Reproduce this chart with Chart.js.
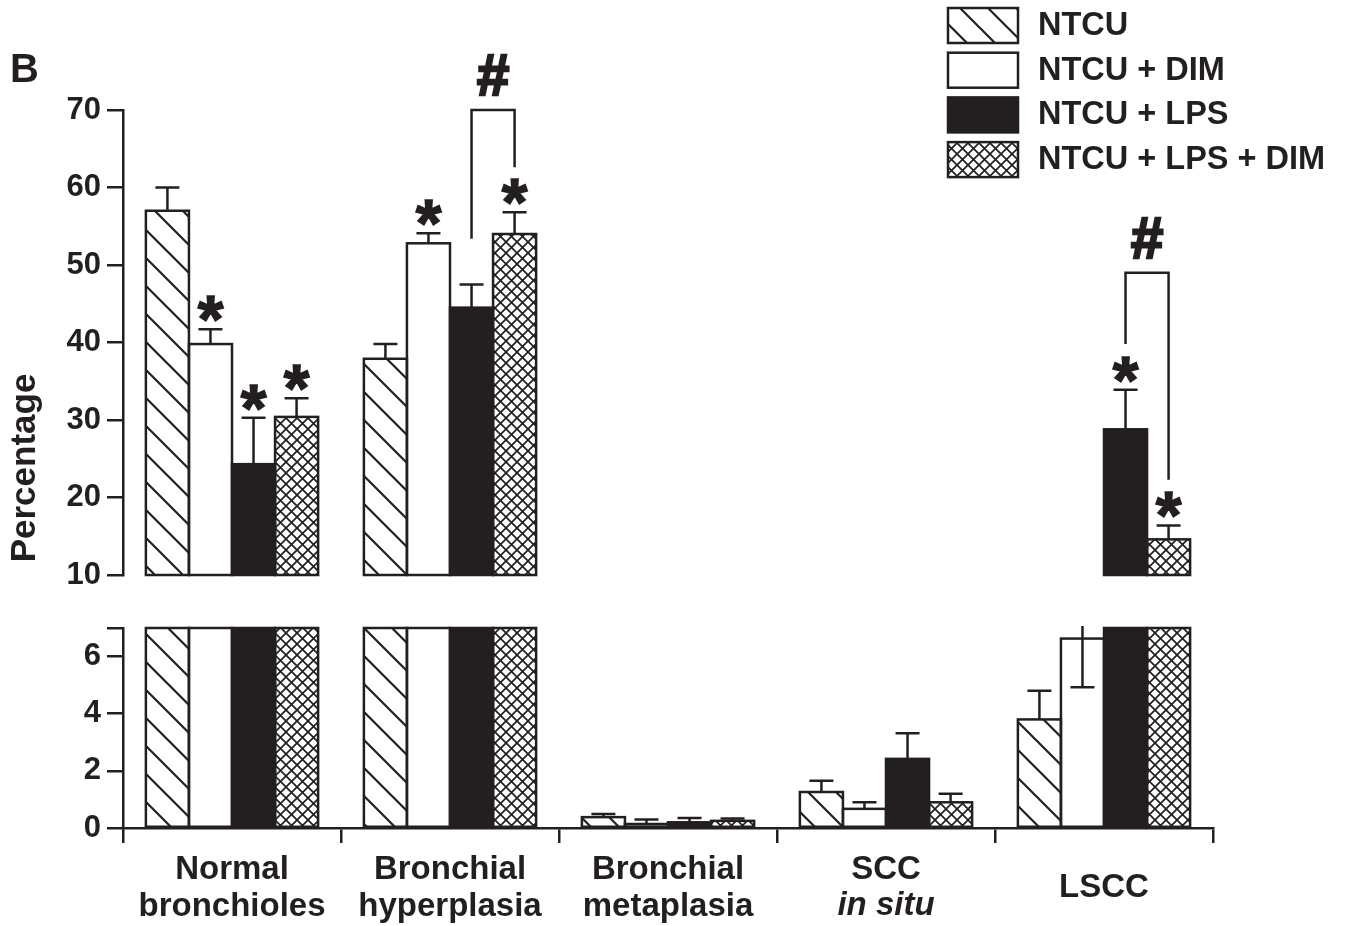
<!DOCTYPE html>
<html>
<head>
<meta charset="utf-8">
<script src="https://cdn.jsdelivr.net/npm/chart.js@4.4.0/dist/chart.umd.min.js"></script>
<style>
    html, body { margin: 0; padding: 0; background: #fff; }
    #wrap { position: relative; width: 1350px; height: 926px; }
    #topChart { position: absolute; left: 0; top: 0; }
    #bottomChart { position: absolute; left: 0; top: 600px; }
</style>
</head>
<body>
<div id="wrap">
    <canvas id="topChart" width="1350" height="600"></canvas>
    <canvas id="bottomChart" width="1350" height="326"></canvas>
</div>
<script>
// Categories (second line of SCC is drawn in italics separately)
const CATEGORIES = [['Normal', 'bronchioles'], ['Bronchial', 'hyperplasia'], ['Bronchial', 'metaplasia'], ['SCC', ' '], 'LSCC'];
const ITALIC_SUBLABELS = ['', '', '', 'in situ', ''];
const SERIES_LABELS = ['NTCU', 'NTCU + DIM', 'NTCU + LPS', 'NTCU + LPS + DIM'];

// Percentages
const NTCU = [57.0, 37.9, 0.38, 1.26, 3.8];
const NTCU_DIM = [39.8, 52.8, 0.14, 0.67, 6.63];
const NTCU_LPS = [24.3, 44.5, 0.2, 2.42, 28.8];
const NTCU_LPS_DIM = [30.4, 54.0, 0.25, 0.9, 14.6];

// Error bar sizes (SEM)
const NTCU_ERR = [3.0, 1.9, 0.11, 0.39, 1.0];
const NTCU_DIM_ERR = [1.9, 1.3, 0.16, 0.23, 1.7];
const NTCU_LPS_ERR = [6.0, 3.0, 0.15, 0.9, 5.1];
const NTCU_LPS_DIM_ERR = [2.4, 2.8, 0.08, 0.3, 1.8];

// Broken axis ranges and ticks
const TOP_TICKS = [10, 20, 30, 40, 50, 60, 70];
const BOTTOM_TICKS = [0, 2, 4, 6, 7];

// Significance marks: [category, series]
const STARS = [[0, 1], [0, 2], [0, 3], [1, 1], [1, 3], [4, 2], [4, 3]];
// Brackets between series within a category (values in data units)
const BRACKETS = [
    { cat: 1, from: 2, to: 3, top: 70, fromEnd: 53.4, toEnd: 62.6 },
    { cat: 4, from: 2, to: 3, top: 49, fromEnd: 39.8, toEnd: 22.3 }
];

const INK = '#231f20';
const FONT = "'Liberation Sans', Arial, sans-serif";

function makePattern(size, lineWidth, draw) {
    const c = document.createElement('canvas');
    c.width = size;
    c.height = size;
    const g = c.getContext('2d');
    g.fillStyle = '#fff';
    g.fillRect(0, 0, size, size);
    g.strokeStyle = INK;
    g.lineWidth = lineWidth;
    g.beginPath();
    draw(g, size);
    g.stroke();
    return g.createPattern(c, 'repeat');
}

const diagPattern = makePattern(28, 2.2, (g, s) => {
    g.moveTo(-3, -3); g.lineTo(s + 3, s + 3);
    g.moveTo(s - 3, -3); g.lineTo(s + 3, 3);
    g.moveTo(-3, s - 3); g.lineTo(3, s + 3);
});
const crossPattern = makePattern(11, 1.7, (g, s) => {
    g.moveTo(-2, -2); g.lineTo(s + 2, s + 2);
    g.moveTo(-2, s + 2); g.lineTo(s + 2, -2);
});

const FILLS = [diagPattern, '#ffffff', INK, crossPattern];
const SERIES = [NTCU, NTCU_DIM, NTCU_LPS, NTCU_LPS_DIM];
const ERRORS = [NTCU_ERR, NTCU_DIM_ERR, NTCU_LPS_ERR, NTCU_LPS_DIM_ERR];

function buildDatasets() {
    return SERIES.map((values, i) => ({
        label: SERIES_LABELS[i],
        data: values,
        backgroundColor: FILLS[i],
        borderWidth: 0,
        clip: 0,
        categoryPercentage: 0.79,
        barPercentage: 1.0
    }));
}

// Bar outlines and error bars, clipped to the panel
const barDetailsPlugin = {
    id: 'barDetails',
    afterDatasetsDraw(chart) {
        const { ctx, chartArea: a } = chart;
        const y = chart.scales.y;
        ctx.save();
        ctx.beginPath();
        ctx.rect(a.left - 2, a.top - 2, a.right - a.left + 4, a.bottom - a.top + 4);
        ctx.clip();
        ctx.strokeStyle = INK;
        ctx.lineWidth = 2.5;
        chart.data.datasets.forEach((ds, d) => {
            chart.getDatasetMeta(d).data.forEach((bar, i) => {
                const v = ds.data[i];
                if (v <= y.min) return;
                const top = Math.max(bar.y, a.top);
                const bottom = Math.min(bar.base, a.bottom);
                ctx.strokeRect(bar.x - bar.width / 2, top, bar.width, bottom - top);

                const e = ERRORS[d][i];
                const yv = y.getPixelForValue(v);
                const yHi = y.getPixelForValue(v + e);
                ctx.beginPath();
                ctx.moveTo(bar.x, yv); ctx.lineTo(bar.x, yHi);
                ctx.moveTo(bar.x - 12, yHi); ctx.lineTo(bar.x + 12, yHi);
                if (v + e > y.max) {
                    const yLo = y.getPixelForValue(v - e);
                    ctx.moveTo(bar.x, yv); ctx.lineTo(bar.x, yLo);
                    ctx.moveTo(bar.x - 12, yLo); ctx.lineTo(bar.x + 12, yLo);
                }
                ctx.stroke();
            });
        });
        ctx.restore();
    }
};

// Stars, brackets, legend, panel letter, axis title
const annotationsPlugin = {
    id: 'annotations',
    afterDraw(chart) {
        const { ctx } = chart;
        const y = chart.scales.y;
        const barAt = (cat, s) => chart.getDatasetMeta(s).data[cat];
        ctx.save();
        ctx.fillStyle = INK;
        ctx.strokeStyle = INK;

        ctx.font = 'bold 66px ' + FONT;
        ctx.textAlign = 'center';
        ctx.textBaseline = 'alphabetic';
        ctx.lineWidth = 1.5;
        STARS.forEach(([cat, s]) => {
            const bar = barAt(cat, s);
            const yHi = y.getPixelForValue(SERIES[s][cat] + ERRORS[s][cat]);
            ctx.fillText('*', bar.x, yHi - 24 + 37);
            ctx.strokeText('*', bar.x, yHi - 24 + 37);
        });

        BRACKETS.forEach(b => {
            const x1 = barAt(b.cat, b.from).x;
            const x2 = barAt(b.cat, b.to).x;
            const yTop = y.getPixelForValue(b.top);
            ctx.lineWidth = 2.5;
            ctx.beginPath();
            ctx.moveTo(x1, y.getPixelForValue(b.fromEnd));
            ctx.lineTo(x1, yTop);
            ctx.lineTo(x2, yTop);
            ctx.lineTo(x2, y.getPixelForValue(b.toEnd));
            ctx.stroke();
            ctx.font = 'bold 58px ' + FONT;
            ctx.lineWidth = 2.5;
            ctx.fillText('#', (x1 + x2) / 2, yTop - 35 + 20);
            ctx.strokeText('#', (x1 + x2) / 2, yTop - 35 + 20);
        });

        // legend
        ctx.lineWidth = 2.5;
        ctx.textAlign = 'left';
        ctx.textBaseline = 'middle';
        ctx.font = 'bold 32.5px ' + FONT;
        SERIES_LABELS.forEach((label, i) => {
            const y0 = 8 + i * 44.7;
            ctx.fillStyle = FILLS[i];
            ctx.fillRect(948, y0, 70, 35);
            ctx.strokeRect(948, y0, 70, 35);
            ctx.fillStyle = INK;
            ctx.fillText(label, 1038, y0 + 18);
        });

        ctx.font = 'bold 40px ' + FONT;
        ctx.textBaseline = 'alphabetic';
        ctx.fillText('B', 10, 82);

        ctx.translate(25, 468);
        ctx.rotate(-Math.PI / 2);
        ctx.textAlign = 'center';
        ctx.textBaseline = 'middle';
        ctx.font = 'bold 35px ' + FONT;
        ctx.fillText('Percentage', 0, 0);
        ctx.restore();
    }
};

// Italic second line under SCC
const italicLabelPlugin = {
    id: 'italicLabels',
    afterDraw(chart) {
        const { ctx } = chart;
        const x = chart.scales.x;
        ctx.save();
        ctx.fillStyle = INK;
        ctx.font = 'italic bold 33px ' + FONT;
        ctx.textAlign = 'center';
        ctx.textBaseline = 'middle';
        ITALIC_SUBLABELS.forEach((text, i) => {
            if (!text) return;
            ctx.fillText(text, x.getPixelForTick(i), x.top + 78);
        });
        ctx.restore();
    }
};

function yAxis(min, max, ticks) {
    return {
        min: min,
        max: max,
        afterBuildTicks: scale => { scale.ticks = ticks.map(v => ({ value: v })); },
        afterFit: scale => { scale.width = 123; },
        grid: { drawOnChartArea: false, tickLength: 16, lineWidth: 2.5, color: INK },
        border: { display: true, width: 2.5, color: INK },
        ticks: {
            color: INK,
            padding: 6,
            font: { family: FONT, size: 31, weight: 'bold' },
            callback: v => (v === 7 ? '' : v)
        }
    };
}

const commonOptions = {
    responsive: false,
    animation: false,
    events: [],
    plugins: { legend: { display: false }, tooltip: { enabled: false } }
};

new Chart(document.getElementById('topChart'), {
    type: 'bar',
    data: { labels: CATEGORIES, datasets: buildDatasets() },
    options: {
        ...commonOptions,
        layout: { padding: { top: 110, right: 137, bottom: 25, left: 0 } },
        scales: {
            x: { display: false },
            y: yAxis(10, 70, TOP_TICKS)
        }
    },
    plugins: [barDetailsPlugin, annotationsPlugin]
});

new Chart(document.getElementById('bottomChart'), {
    type: 'bar',
    data: { labels: CATEGORIES, datasets: buildDatasets() },
    options: {
        ...commonOptions,
        layout: { padding: { top: 28, right: 137, bottom: 0, left: 0 } },
        scales: {
            x: {
                afterFit: scale => { scale.height = 98; },
                grid: { drawOnChartArea: false, offset: true, tickLength: 15, lineWidth: 2.5, color: INK },
                border: { display: true, width: 2.5, color: INK },
                ticks: {
                    color: INK,
                    padding: 26.5,
                    crossAlign: 'center',
                    maxRotation: 0,
                    autoSkip: false,
                    font: { family: FONT, size: 33, weight: 'bold', lineHeight: 1.12 }
                }
            },
            y: yAxis(0, 7, BOTTOM_TICKS)
        }
    },
    plugins: [barDetailsPlugin, italicLabelPlugin]
});
</script>
</body>
</html>
